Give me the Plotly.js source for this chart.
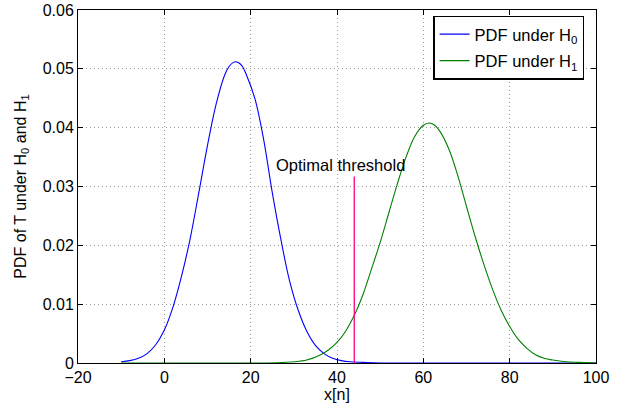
<!DOCTYPE html>
<html>
<head>
<meta charset="utf-8">
<script src="https://cdn.plot.ly/plotly-3.0.1.min.js"></script>
<style>html,body{margin:0;padding:0;background:#fff;}#chart{width:624px;height:410px;}</style>
</head>
<body>
<div id="chart"></div>
<script>
// H0 PDF (blue)
const xH0 = [-10, -8, -6, -4, -2, 0, 2, 4, 6, 8, 10, 12, 14, 15, 16, 16.5, 17, 18, 19, 21, 23, 25, 27, 29, 31, 33, 35, 37, 39, 41, 43, 46, 50, 60, 100];
const yH0 = [0.0002, 0.0004, 0.0008, 0.0016, 0.0031, 0.0056, 0.0095, 0.0148, 0.0212, 0.0290, 0.0370, 0.0440, 0.0490, 0.0504, 0.0511, 0.0512, 0.0511, 0.0505, 0.0490, 0.0449, 0.0380, 0.0290, 0.0210, 0.0140, 0.0090, 0.0054, 0.0030, 0.0016, 0.0008, 0.0004, 0.0002, 0.0001, 0, 0, 0];
// H1 PDF (green)
const xH1 = [-10, 20, 26, 30, 33, 36, 38, 40, 42, 44, 46, 48, 50, 52, 54, 56, 58, 60, 61.3, 62.5, 64, 66, 68, 70, 72, 74, 76, 78, 80, 82, 84, 86, 88, 90, 93, 96, 100];
const yH1 = [0, 0, 0.00005, 0.0002, 0.0005, 0.0013, 0.0022, 0.0035, 0.0054, 0.0081, 0.0116, 0.0160, 0.0205, 0.0255, 0.0305, 0.0350, 0.0385, 0.0404, 0.0408, 0.0405, 0.0392, 0.0362, 0.0318, 0.0266, 0.0215, 0.0168, 0.0126, 0.0090, 0.0062, 0.0040, 0.0025, 0.0014, 0.0008, 0.0005, 0.0002, 0.0001, 0];
// optimal threshold
const thresholdX = [44, 44];
const thresholdY = [0, 0.0317];
const thresholdLabel = 'Optimal threshold';
const thresholdLabelPos = [40.7, 0.0337];
const seriesNames = ['PDF under H<sub>0</sub>', 'PDF under H<sub>1</sub>'];
const xTicks = [-20, 0, 20, 40, 60, 80, 100];
const yTicks = [0, 0.01, 0.02, 0.03, 0.04, 0.05, 0.06];

const FONT = 'Liberation Sans, Arial, Helvetica, sans-serif';

const traces = [
  {x: xH0, y: yH0, type: 'scatter', mode: 'lines', name: seriesNames[0], legendgroup: 'g0',
   line: {color: 'rgb(0,0,255)', width: 1.1, shape: 'spline', smoothing: 1}},
  {x: xH1, y: yH1, type: 'scatter', mode: 'lines', name: seriesNames[1], legendgroup: 'g1',
   line: {color: 'rgb(0,128,0)', width: 1.1, shape: 'spline', smoothing: 1}},
  {x: thresholdX, y: thresholdY, type: 'scatter', mode: 'lines', showlegend: false,
   line: {color: 'rgb(255,0,128)', width: 1.3}}
];

const axisCommon = {
  showline: true, linecolor: '#000', linewidth: 1, mirror: 'ticks',
  ticks: 'inside', ticklen: 5, tickwidth: 1, tickcolor: '#000',
  showgrid: true, gridcolor: '#9a9a9a', gridwidth: 1, griddash: '1px,3px',
  zeroline: false, tickfont: {family: FONT, size: 16, color: '#000'}
};

const layout = {
  width: 624, height: 410,
  margin: {l: 78, r: 28, t: 10, b: 47},
  paper_bgcolor: '#fff', plot_bgcolor: '#fff',
  font: {family: FONT, size: 16, color: '#000'},
  xaxis: Object.assign({}, axisCommon, {
    range: [-20, 100], tickvals: xTicks,
    title: {text: 'x[n]', font: {family: FONT, size: 16, color: '#000'}, standoff: 2}
  }),
  yaxis: Object.assign({}, axisCommon, {
    range: [0, 0.06], tickvals: yTicks,
    title: {text: 'PDF of T under H<sub>0</sub> and H<sub>1</sub>', font: {family: FONT, size: 16, color: '#000'}, standoff: 12}
  }),
  legend: {
    x: 0.9774, xanchor: 'right', y: 0.984, yanchor: 'top',
    bgcolor: '#fff', bordercolor: '#000', borderwidth: 1.3,
    font: {family: FONT, size: 16.5, color: '#000'}, itemwidth: 30, tracegroupgap: 2
  },
  annotations: [{
    x: thresholdLabelPos[0], y: thresholdLabelPos[1], xref: 'x', yref: 'y',
    text: thresholdLabel, showarrow: false, xanchor: 'center', yanchor: 'middle',
    font: {family: FONT, size: 16.5, color: '#000'}
  }],
  showlegend: true
};

Plotly.newPlot('chart', traces, layout, {staticPlot: true, displayModeBar: false});
</script>
</body>
</html>
